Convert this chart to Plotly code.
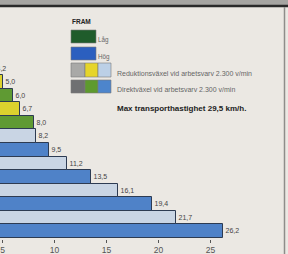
import plotly.graph_objects as go

# Data (rows from bottom to top)
speeds = [26.2, 21.7, 19.4, 16.1, 13.5, 11.2, 9.5, 8.2, 8.0, 6.7, 6.0, 5.0, 4.2]
ranges = ["Hög"] * 8 + ["Låg"] * 5
gearing = ["Direkt", "Reduktion"] * 6 + ["Direkt"]
tick_vals = [5, 10, 15, 20, 25]
tick_text = ["5", "10", "15", "20", "25"]

colour_map = {
    ("Hög", "Direkt"): "#4f82c8",
    ("Hög", "Reduktion"): "#c9d5e4",
    ("Låg", "Direkt"): "#5f9a33",
    ("Låg", "Reduktion"): "#dcd22e",
}
colours = [colour_map[(r, g)] for r, g in zip(ranges, gearing)]
labels = [f"{v:.1f}".replace(".", ",") for v in speeds]
rows = list(range(len(speeds)))

W, H = 288, 254
AXIS_Y = 239


def px(x):
    return x / W


def py(y):
    return (H - y) / H


fig = go.Figure()
fig.add_trace(go.Bar(
    x=speeds, y=rows, orientation="h",
    marker=dict(color=colours, line=dict(color="#2d3b52", width=1)),
    width=1.0,
    text=labels, textposition="outside",
    textfont=dict(size=7, color="#444444", family="Liberation Sans"),
    showlegend=False, hoverinfo="skip",
))

shapes = []
ann = []

# frame
shapes.append(dict(type="rect", xref="paper", yref="paper", x0=px(0), x1=px(288), y0=py(0), y1=py(5),
                   fillcolor="#a6a5a2", line=dict(width=0), layer="above"))
shapes.append(dict(type="line", xref="paper", yref="paper", x0=px(0), x1=px(288), y0=py(6), y1=py(6),
                   line=dict(color="#2a2a2a", width=2.5), layer="above"))
shapes.append(dict(type="line", xref="paper", yref="paper", x0=px(284.5), x1=px(284.5), y0=py(7), y1=py(254),
                   line=dict(color="#8e8d8a", width=1.5), layer="above"))


def box(x0, x1, y0, y1, c):
    shapes.append(dict(type="rect", xref="paper", yref="paper", x0=px(x0), x1=px(x1), y0=py(y1), y1=py(y0),
                       fillcolor=c, line=dict(color="#7a7a7a", width=0.6), layer="above"))


box(71, 96, 30, 43, "#1f5c2b")
box(71, 96, 47, 60, "#2b5fbf")
box(71, 85, 63, 77, "#a9a9a7")
box(85, 98, 63, 77, "#e6d52a")
box(98, 111, 63, 77, "#bcd0e6")
box(71, 85, 80, 93, "#6f7072")
box(85, 98, 80, 93, "#5e9a2e")
box(98, 111, 80, 93, "#4d85cc")


def text(x, y, s, size, color="#555555", bold=False):
    ann.append(dict(xref="paper", yref="paper", x=px(x), y=py(y), text=f"<b>{s}</b>" if bold else s,
                    showarrow=False, xanchor="left", yanchor="middle",
                    font=dict(size=size, color=color, family="Liberation Sans")))


text(70, 21.5, "FRAM", 6.5, "#222222", True)
text(96, 40, "Låg", 6.3, "#666666")
text(96, 57, "Hög", 6.3, "#666666")
text(115, 73, "Reduktionsväxel vid arbetsvarv 2.300 v/min", 7.0, "#666666")
text(115, 89, "Direktväxel vid arbetsvarv 2.300 v/min", 7.0, "#666666")
text(115, 108, "Max transporthastighet 29,5 km/h.", 8.0, "#222222", True)

x0 = 5 - 2.5 / 10.4
x1 = x0 + W / 10.4
y_bot = -(H - 231) / 13.54
y_top = 231 / 13.54

fig.update_layout(
    width=W, height=H,
    margin=dict(l=0, r=0, t=0, b=0),
    paper_bgcolor="#ebe8e3", plot_bgcolor="#ebe8e3",
    bargap=0,
    shapes=shapes, annotations=ann,
    xaxis=dict(range=[x0, x1], tickvals=tick_vals, ticktext=tick_text, ticks="outside", ticklen=3,
               tickcolor="#555555", showgrid=False, zeroline=False, showline=False,
               anchor="free", position=(H - AXIS_Y) / H, automargin=False,
               tickfont=dict(size=8.5, color="#555555", family="Liberation Sans")),
    yaxis=dict(range=[y_bot, y_top], visible=False, automargin=False),
)

fig.write_html(
    "out.html",
    config={"displayModeBar": False},
    post_script="document.body.style.margin='0';document.body.style.overflow='hidden';"
                "document.body.style.background='#ebe8e3';",
)
